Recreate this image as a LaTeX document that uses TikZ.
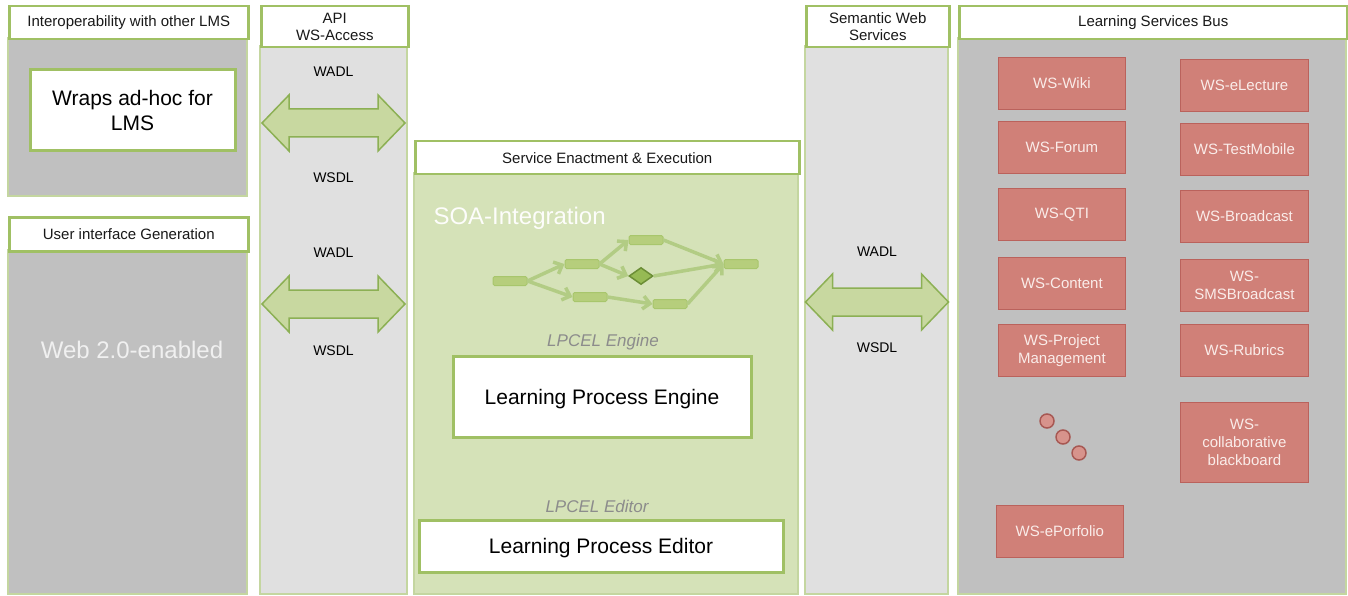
\documentclass[tikz,border=0pt]{standalone}
\usepackage{fontspec}
\setmainfont{Liberation Sans}
\usetikzlibrary{arrows.meta,shapes.geometric}

\definecolor{grnline}{RGB}{160,192,100}
\definecolor{grnthin}{RGB}{196,214,160}
\definecolor{panelgray}{RGB}{192,192,192}
\definecolor{palegray}{RGB}{224,224,224}
\definecolor{soagreen}{RGB}{213,226,184}
\definecolor{wsred}{RGB}{208,128,120}
\definecolor{wsredline}{RGB}{186,98,92}
\definecolor{wstext}{RGB}{250,236,233}
\definecolor{arrowfill}{RGB}{200,216,160}
\definecolor{arrowline}{RGB}{140,176,84}
\definecolor{flowfill}{RGB}{182,206,124}
\definecolor{flowline}{RGB}{168,198,108}
\definecolor{flowedge}{RGB}{178,204,132}
\definecolor{gatefill}{RGB}{150,186,84}
\definecolor{gateline}{RGB}{108,142,54}
\definecolor{lpcelgray}{RGB}{140,140,140}

\newcommand{\fs}[2]{\fontsize{#1}{#2}\selectfont}
% big double arrow, centred on a coordinate
\newcommand{\wsarrow}[1]{%
  \draw[bigarrow] (#1) ++(-71.5,0) -- ++(27,-28) -- ++(0,14) -- ++(89,0) -- ++(0,-14)
    -- ++(27,28) -- ++(-27,28) -- ++(0,-14) -- ++(-89,0) -- ++(0,14) -- cycle;}

\begin{document}
\begin{tikzpicture}[x=1pt,y=-1pt,
    hdr/.style={draw=grnline, line width=2.5pt, fill=white, inner sep=0pt, align=center,
      anchor=north west, text=black!90, font=\fs{15}{17}},
    body/.style={draw=grnthin, line width=1.2pt},
    wsbox/.style={draw=wsredline, line width=0.8pt, fill=wsred, anchor=north west, inner sep=0pt,
      align=center, text=wstext, font=\fs{15}{18}},
    wsdot/.style={circle, draw=wsredline!90!black, line width=1.5pt, fill=wsred!85!white, minimum size=14pt, inner sep=0pt},
    wbox/.style={draw=grnline, line width=3pt, fill=white, inner sep=0pt, align=center,
      text=black, text depth=0pt, font=\fs{21}{25}},
    proto/.style={text=black, font=\fs{14}{16}},
    bigarrow/.style={draw=arrowline, line width=1.5pt, fill=arrowfill, line join=miter},
    flow/.style={rectangle, rounded corners=1.5pt, draw=flowline, line width=1pt, fill=flowfill,
      minimum width=34pt, minimum height=9pt, inner sep=0pt},
    gate/.style={diamond, draw=gateline, line width=1.5pt, fill=gatefill,
      minimum width=24pt, minimum height=17pt, inner sep=0pt},
    flowarr/.style={draw=flowedge, line width=3.5pt, -{Straight Barb[length=7pt,width=13pt]}},
    lpcel/.style={text=lpcelgray, font=\fs{17}{20}\itshape}]

\useasboundingbox (0,0) rectangle (1348,596);

% panels
\draw[body, fill=panelgray] (8,38) rectangle (247,196);
\draw[body, fill=panelgray] (8,250) rectangle (247,594);
\draw[body, fill=palegray] (260,46) rectangle (407,594);
\draw[body, fill=soagreen] (414,173) rectangle (798,594);
\draw[body, fill=palegray] (805,46) rectangle (948,594);
\draw[body, fill=panelgray] (958,38) rectangle (1346,594);

% headers
\node[hdr, minimum width=239pt, minimum height=33pt] (interop) at (8,5) {Interoperability with other LMS};
\node[hdr, minimum width=239pt, minimum height=34pt] (uigen) at (8,216) {User interface Generation};
\node[hdr, minimum width=147pt, minimum height=41pt] (api) at (260,5) {API\\WS-Access};
\node[hdr, minimum width=384pt, minimum height=33pt] (enact) at (414,140) {Service Enactment \& Execution};
\node[hdr, minimum width=143pt, minimum height=41pt] (semweb) at (805,5) {Semantic Web\\Services};
\node[hdr, minimum width=388pt, minimum height=33pt] (bus) at (958,5) {Learning Services Bus};

% left column
\node[wbox, minimum width=205pt, minimum height=81pt] (wraps) at (132.5,110.5) {Wraps ad-hoc for\\LMS};
\node[text=white!94!black, font=\fs{24}{28}] (web20) at (132,350) {Web 2.0-enabled};

% api access
\node[proto] (wadlA) at (333.5,72) {WADL};
\node[proto] (wsdlA) at (333.5,178) {WSDL};
\wsarrow{333.5,123}
\node[proto] (wadlB) at (333.5,253) {WADL};
\node[proto] (wsdlB) at (333.5,351) {WSDL};
\wsarrow{333.5,304}

% semantic web services
\node[proto] (wadlC) at (877,252) {WADL};
\node[proto] (wsdlC) at (877,348) {WSDL};
\wsarrow{877,302}

% enactment
\node[anchor=west, text=white!95!soagreen, font=\fs{24}{28}] (soa) at (430,218) {SOA-Integration};
\node[flow] (wf1) at (510,281) {};
\node[flow] (wf2) at (582,264) {};
\node[flow] (wf3) at (646,240) {};
\node[gate] (wfg) at (641,276) {};
\node[flow] (wf4) at (590,297) {};
\node[flow] (wf5) at (670,304) {};
\node[flow] (wf6) at (741,264) {};
\draw[flowarr] (wf1.east) -- (wf2.west);
\draw[flowarr] (wf1.east) -- (wf4.west);
\draw[flowarr] (wf2.east) -- (wf3.west);
\draw[flowarr] (wf2.east) -- (wfg.west);
\draw[flowarr] (wf3.east) -- (wf6.west);
\draw[flowarr] (wfg.east) -- (wf6.west);
\draw[flowarr] (wf4.east) -- (wf5.west);
\draw[flowarr] (wf5.east) -- (wf6.west);

\node[lpcel] (lpeng) at (603,342) {LPCEL Engine};
\node[wbox, minimum width=298pt, minimum height=81pt] (engine) at (602,396.5) {Learning Process Engine};
\node[lpcel] (lpedit) at (597,506) {LPCEL Editor};
\node[wbox, minimum width=364pt, minimum height=52pt] (editor) at (601,546) {Learning Process Editor};

% learning services bus
\foreach \nm/\yy/\txt in {wiki/57/WS-Wiki, forum/121/WS-Forum, qti/188/WS-QTI,
    content/257/WS-Content, project/324/{WS-Project\\Management}}
  \node[wsbox, minimum width=127pt, minimum height=52pt] (\nm) at (998,\yy) {\txt};
\foreach \nm/\yy/\txt in {electure/59/WS-eLecture, testmobile/123/WS-TestMobile,
    broadcast/190/WS-Broadcast, sms/259/{WS-\\SMSBroadcast}, rubrics/324/WS-Rubrics}
  \node[wsbox, minimum width=128pt, minimum height=52pt] (\nm) at (1180,\yy) {\txt};
\node[wsbox, minimum width=128pt, minimum height=80pt] (blackboard) at (1180,402) {WS-\\collaborative\\blackboard};
\node[wsbox, minimum width=127pt, minimum height=52pt] (eportfolio) at (996,505) {WS-ePorfolio};

\node[wsdot] (dot1) at (1047,421) {};
\node[wsdot] (dot2) at (1063,437) {};
\node[wsdot] (dot3) at (1079,453) {};

\end{tikzpicture}
\end{document}
